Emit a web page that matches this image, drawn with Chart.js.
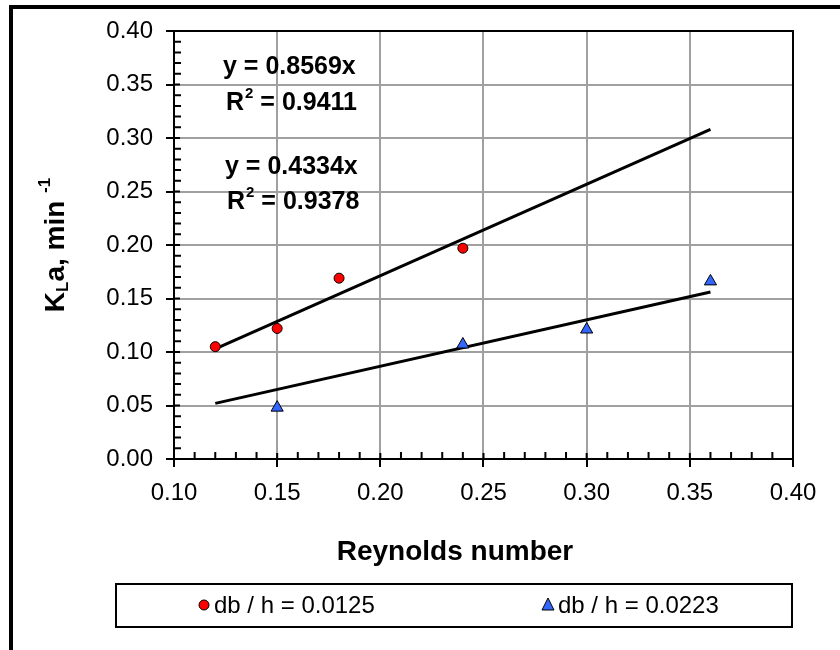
<!DOCTYPE html>
<html>
<head>
<meta charset="utf-8">
<script src="https://cdn.jsdelivr.net/npm/chart.js@4"></script>
<style>
  body { margin: 0; background: #fff; }
  canvas { display: block; }
</style>
</head>
<body>
<canvas id="chart" width="840" height="650"></canvas>
<script>
// db/h = 0.0125 (red circles)
const reSmall = [0.12, 0.15, 0.18, 0.24];
const kSmall = [0.105, 0.122, 0.169, 0.197];
// db/h = 0.0223 (blue triangles)
const reLarge = [0.15, 0.24, 0.30, 0.36];
const kLarge = [0.048, 0.107, 0.121, 0.166];

// trendline end points
const fitX = [0.12, 0.36];
const fitSmall = [0.103, 0.308];
const fitLarge = [0.052, 0.156];

const labelSmall = 'db / h = 0.0125';
const labelLarge = 'db / h = 0.0223';
const eqSmall = ['y = 0.8569x', '0.9411'];
const eqLarge = ['y = 0.4334x', '0.9378'];

const xTicks = [0.10, 0.15, 0.20, 0.25, 0.30, 0.35, 0.40];
const yTicks = [0.00, 0.05, 0.10, 0.15, 0.20, 0.25, 0.30, 0.35, 0.40];

const FONT = '"Liberation Sans", Arial, sans-serif';

function pts(xs, ys) {
    return xs.map((x, i) => ({ x: x, y: ys[i] }));
}

// frame, box, inner ticks, equations, axis titles and legend
const extras = {
    id: 'extras',
    afterDraw(chart) {
        const ctx = chart.ctx;
        const a = chart.chartArea;
        const xs = chart.scales.x;
        const ys = chart.scales.y;
        ctx.save();

        // outer frame (only top and left visible)
        ctx.strokeStyle = '#000';
        ctx.lineWidth = 4;
        ctx.beginPath();
        ctx.moveTo(11, 650);
        ctx.lineTo(11, 7);
        ctx.lineTo(840, 7);
        ctx.stroke();

        // plot box top/right
        ctx.lineWidth = 2;
        ctx.beginPath();
        ctx.moveTo(a.left, a.top);
        ctx.lineTo(a.right, a.top);
        ctx.lineTo(a.right, a.bottom);
        ctx.stroke();

        // ticks inside the plot
        ctx.beginPath();
        for (let i = 0; i <= 40; i++) {
            const py = ys.getPixelForValue(i / 100);
            const len = (i % 5 === 0) ? 6 : 7;
            ctx.moveTo(a.left, py);
            ctx.lineTo(a.left + len, py);
        }
        for (let i = 10; i <= 40; i++) {
            const px = xs.getPixelForValue(i / 100);
            const len = (i % 5 === 0) ? 6 : 7;
            ctx.moveTo(px, a.bottom);
            ctx.lineTo(px, a.bottom - len);
        }
        ctx.stroke();

        // equations
        ctx.fillStyle = '#000';
        ctx.textBaseline = 'middle';
        ctx.textAlign = 'left';
        function rsq(val, x, y) {
            ctx.font = 'bold 25px ' + FONT;
            ctx.fillText('R', x, y);
            let w = ctx.measureText('R').width;
            ctx.font = 'bold 15px ' + FONT;
            ctx.fillText('2', x + w + 1, y - 9);
            w += ctx.measureText('2').width + 1;
            ctx.font = 'bold 25px ' + FONT;
            ctx.fillText(' = ' + val, x + w, y);
        }
        ctx.font = 'bold 25px ' + FONT;
        ctx.fillText(eqSmall[0], 223, 67);
        rsq(eqSmall[1], 226, 103);
        ctx.font = 'bold 25px ' + FONT;
        ctx.fillText(eqLarge[0], 225, 167);
        rsq(eqLarge[1], 227, 202);

        // x axis title
        ctx.textAlign = 'center';
        ctx.font = 'bold 28px ' + FONT;
        ctx.fillText('Reynolds number', 455, 552);

        // y axis title (rotated)
        ctx.save();
        ctx.translate(56, 245);
        ctx.rotate(-Math.PI / 2);
        ctx.textAlign = 'left';
        const parts = [
            ['K', 'bold 28px ', 0],
            ['L', 'bold 17px ', 7],
            ['a, min ', 'bold 28px ', 0],
            ['-1', 'bold 17px ', -11]
        ];
        let total = 0;
        parts.forEach(p => { ctx.font = p[1] + FONT; total += ctx.measureText(p[0]).width; });
        let cx = -total / 2;
        parts.forEach(p => {
            ctx.font = p[1] + FONT;
            ctx.fillText(p[0], cx, p[2]);
            cx += ctx.measureText(p[0]).width;
        });
        ctx.restore();

        // legend box
        ctx.lineWidth = 2;
        ctx.strokeStyle = '#000';
        ctx.fillStyle = '#fff';
        ctx.fillRect(116, 584, 676, 43);
        ctx.strokeRect(116, 584, 676, 43);

        ctx.fillStyle = '#ff0000';
        ctx.lineWidth = 1;
        ctx.beginPath();
        ctx.arc(204, 605, 5, 0, Math.PI * 2);
        ctx.fill();
        ctx.stroke();

        ctx.fillStyle = '#3366ff';
        ctx.beginPath();
        ctx.moveTo(548, 598);
        ctx.lineTo(554, 610);
        ctx.lineTo(542, 610);
        ctx.closePath();
        ctx.fill();
        ctx.stroke();

        ctx.fillStyle = '#000';
        ctx.font = '24px ' + FONT;
        ctx.textAlign = 'left';
        ctx.fillText(labelSmall, 214, 606);
        ctx.fillText(labelLarge, 558, 606);

        ctx.restore();
    }
};

const chart = new Chart(document.getElementById('chart'), {
    type: 'scatter',
    data: {
        datasets: [
            {
                label: 'fit small',
                data: pts(fitX, fitSmall),
                showLine: true,
                borderColor: '#000',
                borderWidth: 3,
                pointRadius: 0,
                order: 3
            },
            {
                label: 'fit large',
                data: pts(fitX, fitLarge),
                showLine: true,
                borderColor: '#000',
                borderWidth: 3,
                pointRadius: 0,
                order: 3
            },
            {
                label: labelSmall,
                data: pts(reSmall, kSmall),
                pointStyle: 'circle',
                pointRadius: 5,
                backgroundColor: '#ff0000',
                borderColor: '#000',
                borderWidth: 1,
                order: 1
            },
            {
                label: labelLarge,
                data: pts(reLarge, kLarge),
                pointStyle: 'triangle',
                pointRadius: 7,
                backgroundColor: '#3366ff',
                borderColor: '#000',
                borderWidth: 1,
                order: 1
            }
        ]
    },
    options: {
        responsive: false,
        animation: false,
        layout: { padding: { left: 0, top: 31, right: 47, bottom: 0 } },
        plugins: {
            legend: { display: false },
            tooltip: { enabled: false }
        },
        scales: {
            x: {
                type: 'linear',
                min: 0.1,
                max: 0.4,
                afterFit: scale => { scale.height = 191; },
                afterBuildTicks: scale => { scale.ticks = xTicks.map(v => ({ value: v })); },
                ticks: {
                    color: '#000',
                    font: { family: FONT, size: 24 },
                    padding: 12,
                    maxRotation: 0,
                    callback: v => v.toFixed(2)
                },
                grid: { color: '#a0a0a0', lineWidth: 2, tickLength: 8, tickColor: '#000', tickWidth: 2 },
                border: { display: true, color: '#000', width: 2 }
            },
            y: {
                type: 'linear',
                min: 0,
                max: 0.4,
                afterFit: scale => { scale.width = 174; },
                afterBuildTicks: scale => { scale.ticks = yTicks.map(v => ({ value: v })); },
                ticks: {
                    color: '#000',
                    font: { family: FONT, size: 24 },
                    padding: 13,
                    callback: v => v.toFixed(2)
                },
                grid: { color: '#a0a0a0', lineWidth: 2, tickLength: 8, tickColor: '#000', tickWidth: 2 },
                border: { display: true, color: '#000', width: 2 }
            }
        }
    },
    plugins: [extras]
});
</script>
</body>
</html>
